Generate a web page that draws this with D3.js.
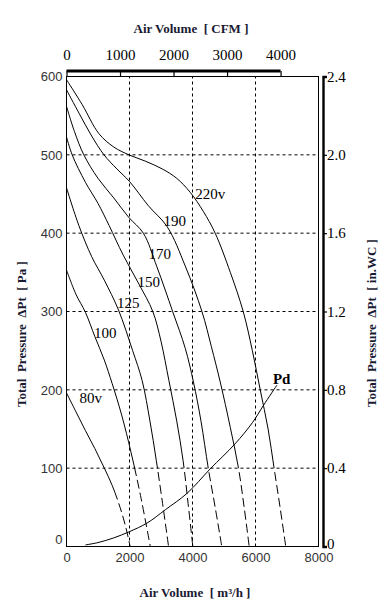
<!DOCTYPE html>
<html lang="en">
<head>
	<meta charset="UTF-8">
	<script src="https://d3js.org/d3.v7.min.js"></script>
	<title></title>
<style>
	body { margin:0; background:#fff; }
	svg { display:block; }
	.serif { font-family:'Liberation Serif','Times New Roman',serif; }
	.title { font-family:'Liberation Serif','Times New Roman',serif; font-weight:bold; font-size:13px; fill:#1a1a33; white-space:pre; }
	.sans text { font-family:'Liberation Sans',Arial,sans-serif; font-size:13px; fill:#333; }
	.serifax text { font-family:'Liberation Serif','Times New Roman',serif; font-size:15px; fill:#000; }
</style>
</head>
<body>
	<svg width="389" height="610"></svg>
<script>
	// fan curves: air volume [m3/h], total pressure [Pa]
	var names = ['220v', '190', '170', '150', '125', '100', '80v'];
	var c220 = [[0,596],[500,564],[1030,527],[1500,510],[1980,500],[2500,492],[3040,482],[3500,470],[3930,452],[4340,428],[4720,400],[5200,350],[5610,300],[5900,250],[6150,200],[6400,150],[6590,100],[6780,50],[6960,0]];
	var c190 = [[0,583],[400,553],[800,524],[1190,500],[1600,482],[2000,466],[2600,435],[3200,408],[3770,358],[4300,300],[4600,255],[4880,210],[5200,152],[5460,100],[5640,50],[5800,0]];
	var c170 = [[0,562],[250,530],[550,500],[1000,470],[1500,445],[1980,420],[2440,400],[2870,357],[3370,300],[3770,253],[4030,210],[4270,160],[4500,100],[4720,50],[4930,0]];
	var c150 = [[0,523],[180,500],[600,465],[1000,438],[1350,410],[1800,372],[2300,335],[2740,300],[3000,262],[3250,212],[3500,160],[3700,110],[3860,55],[4010,0]];
	var c125 = [[0,458],[390,410],[800,370],[1200,340],[1650,302],[2100,250],[2400,212],[2650,160],[2850,110],[3050,55],[3240,0]];
	var c100 = [[0,353],[300,322],[600,299],[900,268],[1200,238],[1450,208],[1750,168],[2050,120],[2350,65],[2660,0]];
	var c80 = [[0,196],[300,172],[600,148],[900,125],[1190,101],[1450,78],[1700,50],[1880,25],[2020,0]];
	var pd = [[600,2],[1000,5],[1500,11],[2000,19],[2560,30],[3140,47],[3830,68],[4560,99],[5350,131],[5900,158],[6250,180],[6680,206]];
	var dashBelow = [100, 100, 100, 100, 100, 90, 60];
	var labelAt = [[4086,444],[3079,409],[2603,367],[2254,331],[1600,304],[870,266],[413,183]];
	var pdLabelAt = [6552,207];

	var xTicks = [0, 2000, 4000, 6000, 8000];
	var yTicks = [0, 100, 200, 300, 400, 500, 600];
	var cfmTicks = [0, 1000, 2000, 3000, 4000];
	var wcTicks = [0, 0.4, 0.8, 1.2, 1.6, 2.0, 2.4];
	var cfmFactor = 1.699;

	var curves = [c220, c190, c170, c150, c125, c100, c80];

	var svg = d3.select('svg');
	var x = d3.scaleLinear().domain([0, 8000]).range([66.5, 318.5]);
	var y = d3.scaleLinear().domain([0, 600]).range([546.5, 76.5]);
	var xc = d3.scaleLinear().domain([0, 8000 / cfmFactor]).range([66.5, 318.5]);
	var yw = d3.scaleLinear().domain([0, 2.4]).range([546.5, 76.5]);

	// grid
	svg.append('g').selectAll('line')
		.data(yTicks.slice(1, -1))
		.enter().append('line')
		.attr('x1', x(0)).attr('x2', x(8000))
		.attr('y1', function(d){ return y(d); })
		.attr('y2', function(d){ return y(d); })
		.attr('stroke', '#000').attr('stroke-dasharray', '3,3');
	svg.append('g').selectAll('line')
		.data(xTicks.slice(1, -1))
		.enter().append('line')
		.attr('y1', y(0)).attr('y2', y(600))
		.attr('x1', function(d){ return x(d); })
		.attr('x2', function(d){ return x(d); })
		.attr('stroke', '#000').attr('stroke-dasharray', '3,3');

	svg.append('rect')
		.attr('x', x(0)).attr('y', y(600))
		.attr('width', x(8000) - x(0)).attr('height', y(0) - y(600))
		.attr('fill', 'none').attr('stroke', '#000');

	// axes
	var gl = svg.append('g').attr('class', 'sans')
		.attr('transform', 'translate(' + x(0) + ',0)')
		.call(d3.axisLeft(y).tickValues(yTicks).tickSize(0).tickPadding(4));
	gl.select('.domain').remove();
	gl.selectAll('text').filter(function(d){ return d === 0; }).attr('dy', '-0.2em');

	var gb = svg.append('g').attr('class', 'sans')
		.attr('transform', 'translate(0,' + y(0) + ')')
		.call(d3.axisBottom(x).tickValues(xTicks).tickSize(0).tickPadding(6).tickFormat(d3.format('d')));
	gb.select('.domain').remove();

	var gr = svg.append('g').attr('class', 'serifax')
		.attr('transform', 'translate(323,0)')
		.call(d3.axisRight(yw).tickValues(wcTicks).tickSize(4).tickPadding(0)
			.tickFormat(function(d){ return d === 0 ? '0' : d3.format('.1f')(d); }));
	gr.select('.domain').attr('stroke-width', 2.4);
	gr.selectAll('.tick line').attr('stroke-width', 1.2);
	gr.selectAll('text').filter(function(d){ return d === 0; }).attr('dy', '0.1em');

	var gt = svg.append('g').attr('class', 'serifax')
		.attr('transform', 'translate(0,71)')
		.call(d3.axisTop(xc).tickValues(cfmTicks).tickSizeInner(-5).tickSizeOuter(0).tickPadding(11).tickFormat(d3.format('d')));
	gt.select('.domain').remove();
	gt.selectAll('.tick line').attr('stroke-width', 1.2);
	gt.append('line')
		.attr('x1', xc(0)).attr('x2', xc(4000))
		.attr('stroke', '#000').attr('stroke-width', 3);

	// curves
	var line = d3.line()
		.x(function(d){ return x(d[0]); })
		.y(function(d){ return y(d[1]); })
		.curve(d3.curveCatmullRom.alpha(0.5));

	function dashes(node, limit) {
		var total = node.getTotalLength();
		var lo = 0, hi = total;
		for (var k = 0; k < 30; k++) {
			var mid = (lo + hi) / 2;
			if (node.getPointAtLength(mid).y < limit) lo = mid; else hi = mid;
		}
		var arr = [lo], s = lo;
		while (s < total) { arr.push(4, 9); s += 13; }
		return arr.join(',');
	}

	svg.append('g').selectAll('path')
		.data(curves)
		.enter().append('path')
		.attr('d', line)
		.attr('fill', 'none')
		.attr('stroke', '#000')
		.attr('stroke-width', 1)
		.each(function(d, i){
			d3.select(this).attr('stroke-dasharray', dashes(this, y(dashBelow[i])));
		});

	svg.append('path')
		.datum(pd)
		.attr('d', line)
		.attr('fill', 'none')
		.attr('stroke', '#000');

	svg.append('g').selectAll('text')
		.data(names)
		.enter().append('text')
		.attr('class', 'serif')
		.attr('font-size', 15)
		.attr('x', function(d, i){ return x(labelAt[i][0]); })
		.attr('y', function(d, i){ return y(labelAt[i][1]); })
		.text(function(d){ return d; });

	svg.append('text')
		.attr('class', 'serif')
		.attr('font-size', 15)
		.attr('font-weight', 'bold')
		.attr('x', x(pdLabelAt[0]))
		.attr('y', y(pdLabelAt[1]))
		.text('Pd');

	// titles
	svg.append('text').attr('class', 'title')
		.attr('x', 191).attr('y', 33).attr('text-anchor', 'middle')
		.text('Air Volume  [ CFM ]');
	svg.append('text').attr('class', 'title')
		.attr('x', 195).attr('y', 597).attr('text-anchor', 'middle')
		.text('Air Volume  [ m³/h ]');
	svg.append('text').attr('class', 'title')
		.attr('transform', 'translate(26,407) rotate(-90)')
		.text('Total  Pressure  ΔPt  [ Pa ]');
	svg.append('text').attr('class', 'title')
		.attr('transform', 'translate(376,407) rotate(-90)')
		.text('Total  Pressure  ΔPt  [ in.WC ]');
</script>
</body>
</html>
